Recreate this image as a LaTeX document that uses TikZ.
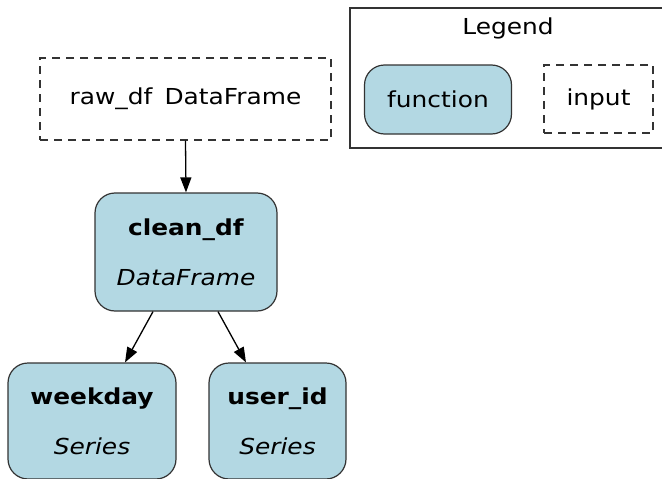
\documentclass[tikz,border=0pt]{standalone}
\usepackage{fontspec}
\setmainfont{DejaVu Sans}[FakeStretch=1.13]
\usetikzlibrary{arrows.meta}
\definecolor{fnfill}{HTML}{B3D8E3}
\definecolor{edgecol}{HTML}{333333}
\tikzset{
  fnbox/.style={draw=edgecol, line width=1.2pt, fill=fnfill, rounded corners=20pt, inner sep=0pt, align=center, font=\fontsize{22}{50}\selectfont},
  inbox/.style={draw=edgecol, line width=1.2pt, dash pattern=on 8pt off 6pt, inner sep=0pt, align=center, font=\fontsize{22}{26}\selectfont},
  conn/.style={draw=black, line width=1.3pt, -{Triangle[length=15pt,width=11pt]}},
}
\begin{document}
\begin{tikzpicture}[x=1pt,y=-1pt]
\useasboundingbox (0,0) rectangle (662,479);
% legend
\draw[edgecol, line width=1.2pt] (670,8) -- (350,8) -- (350,148) -- (670,148);
\node[font=\fontsize{22}{26}\selectfont] (legtitle) at (508,28) {Legend};
\node[fnbox, minimum width=147pt, minimum height=69pt] (legfn) at (438,99.5) {function};
\node[inbox, minimum width=109pt, minimum height=68pt] (legin) at (598.5,99) {input};
% graph
\node[inbox, minimum width=291pt, minimum height=82pt] (raw) at (185.5,99) {raw\_df\hspace{0.55em}DataFrame};
\node[fnbox, minimum width=182pt, minimum height=118pt] (clean) at (186,252) {\textbf{clean\_df}\\\textit{DataFrame}};
\node[fnbox, minimum width=168pt, minimum height=116pt] (weekday) at (92,421) {\textbf{weekday}\\\textit{Series}};
\node[fnbox, minimum width=137pt, minimum height=116pt] (user) at (277.5,421) {\textbf{user\_id}\\\textit{Series}};
\draw[conn] (raw.south) -- (clean.north);
\draw[conn] (clean.south) ++(-33,0) coordinate (c1) -- (weekday.north -| 125,0);
\draw[conn] (clean.south) ++(32,0) coordinate (c2) -- (user.north -| 246,0);
\end{tikzpicture}
\end{document}
